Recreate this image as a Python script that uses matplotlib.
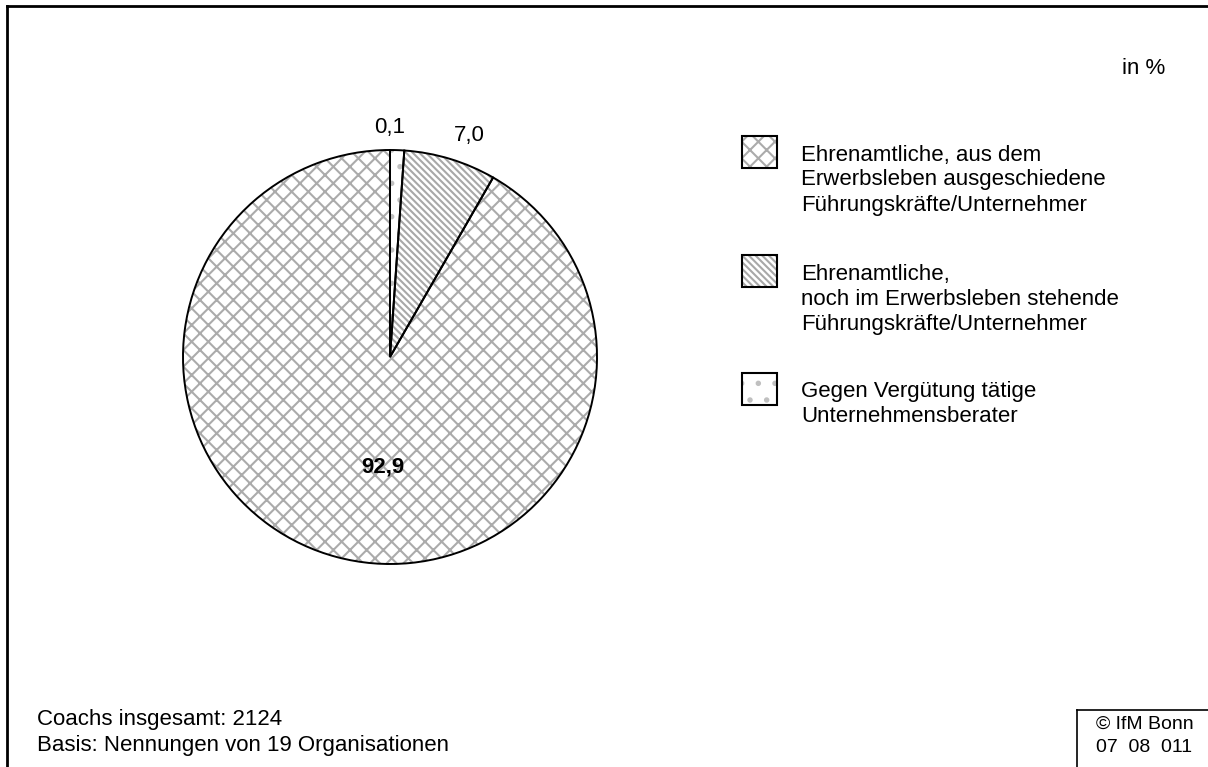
import matplotlib
matplotlib.use("Agg")
import matplotlib.pyplot as plt
from matplotlib.patches import Rectangle

plt.rcParams['font.family'] = ['Liberation Sans', 'DejaVu Sans']
plt.rcParams['hatch.linewidth'] = 1.5

# data (clockwise from 12 o'clock, as drawn)
categories = [
    "Gegen Vergütung tätige\nUnternehmensberater",
    "Ehrenamtliche,\nnoch im Erwerbsleben stehende\nFührungskräfte/Unternehmer",
    "Ehrenamtliche, aus dem\nErwerbsleben ausgeschiedene\nFührungskräfte/Unternehmer",
]
value_labels = ["0,1", "7,0", "92,9"]
# slice sizes as they appear in the picture (small slice is drawn enlarged)
slice_shares = [1.1, 7.2, 91.7]
hatches = [".", "\\\\\\\\\\", "xx"]
hatch_colors = ["#c0c0c0", "#a8a8a8", "#ababab"]

W, H = 1208, 767
FS = 16
fig = plt.figure(figsize=(W / 100, H / 100), dpi=100)

# outer frame (top + left visible)
fig.add_artist(plt.Line2D([7 / W, 7 / W], [0, 1 - 6 / H], transform=fig.transFigure, color="black", lw=2))
fig.add_artist(plt.Line2D([7 / W, 1], [1 - 6 / H, 1 - 6 / H], transform=fig.transFigure, color="black", lw=2))

# pie
cx, cy, r = 390, 357, 207
ax = fig.add_axes([(cx - r) / W, (H - cy - r) / H, 2 * r / W, 2 * r / H])
wedges, _ = ax.pie(slice_shares, startangle=90, counterclock=False, radius=1,
                   colors=["white"] * 3)
for w, h, hc in zip(wedges, hatches, hatch_colors):
    w.set_hatch(h)
    w.set_edgecolor(hc)
    w.set_linewidth(0)
# black outlines on top
outl, _ = ax.pie(slice_shares, startangle=90, counterclock=False, radius=1,
                 wedgeprops=dict(fill=False, edgecolor="black", linewidth=1.4))
for w in outl:
    w.set_clip_on(False)
ax.set_xlim(-1, 1)
ax.set_ylim(-1, 1)
ax.axis("off")


def ftext(x, y, s, **kw):
    fig.text(x / W, 1 - y / H, s, **kw)


# value labels
ftext(390, 128, value_labels[0], ha="center", va="center", fontsize=FS)
ftext(469, 136, value_labels[1], ha="center", va="center", fontsize=FS)
ftext(383, 467, value_labels[2], ha="center", va="center", fontsize=FS, fontweight="bold")

ftext(1165, 68, "in %", ha="right", va="center", fontsize=FS)

# legend (same order as reference: big slice first)
leg_items = [(categories[2], hatches[2], hatch_colors[2], 136, 180),
             (categories[1], hatches[1], hatch_colors[1], 255, 299),
             (categories[0], hatches[0], hatch_colors[0], 373, 404)]
for text, h, hc, top, ymid in leg_items:
    fig.add_artist(Rectangle((742 / W, 1 - (top + 32) / H), 35 / W, 32 / H,
                             transform=fig.transFigure, facecolor="white",
                             edgecolor=hc, hatch=h, lw=0))
    fig.add_artist(Rectangle((742 / W, 1 - (top + 32) / H), 35 / W, 32 / H,
                             transform=fig.transFigure, fill=False,
                             edgecolor="black", lw=1.5))
    ftext(801, ymid, text, ha="left", va="center", fontsize=FS, linespacing=1.25)

# footnotes
ftext(37, 720, "Coachs insgesamt: 2124", ha="left", va="center", fontsize=FS)
ftext(37, 746, "Basis: Nennungen von 19 Organisationen", ha="left", va="center", fontsize=FS)

# copyright box
fig.add_artist(plt.Line2D([1077 / W, 1077 / W], [0, 1 - 710 / H], transform=fig.transFigure, color="black", lw=1.2))
fig.add_artist(plt.Line2D([1077 / W, 1], [1 - 710 / H, 1 - 710 / H], transform=fig.transFigure, color="black", lw=1.2))
ftext(1096, 724, "© IfM Bonn", ha="left", va="center", fontsize=14)
ftext(1096, 747, "07  08  011", ha="left", va="center", fontsize=14)

fig.savefig("out.png", dpi=100, facecolor="white")
